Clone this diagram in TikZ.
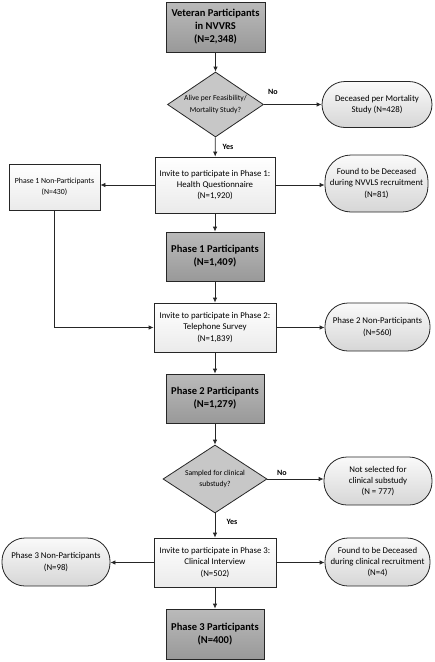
\documentclass[tikz,border=0pt]{standalone}
\usepackage{fontspec}
\setmainfont{Carlito}
\usetikzlibrary{shapes.geometric,arrows.meta}
\begin{document}
\begin{tikzpicture}[x=1pt,y=-1pt,
  base/.style={draw=black!85,line width=0.8pt,align=center,inner sep=1pt,text=black},
  darkbox/.style={base,top color=black!27,bottom color=black!40,font=\fontsize{10.5}{13}\selectfont\bfseries},
  whitebox/.style={base,top color=white,bottom color=black!8,font=\fontsize{8.8}{11.3}\selectfont},
  oval/.style={base,rounded corners=23pt,top color=black!2,bottom color=black!16,font=\fontsize{8.8}{11.3}\selectfont},
  decision/.style={base,diamond,fill=black!22,inner sep=0pt,shape aspect=1.5,font=\fontsize{7.6}{11.5}\selectfont},
  lbl/.style={font=\fontsize{8}{9}\selectfont\bfseries,text=black},
  arr/.style={line width=0.8pt,draw=black!85,-{Latex[length=5pt,width=4.5pt]}}
]
\useasboundingbox (0,0) rectangle (435,662);
\node[darkbox,minimum width=99pt,minimum height=50pt] (top) at (215.5,27) {Veteran Participants\\in NVVRS\\(N=2,348)};
\node[decision,minimum width=96pt,minimum height=65pt] (d1) at (215.5,104.5) {Alive per Feasibility/\\Mortality Study?};
\node[oval,minimum width=110pt,minimum height=46pt] (dec1) at (377,104.5) {Deceased per Mortality\\Study (N=428)};
\node[whitebox,minimum width=120pt,minimum height=56pt] (inv1) at (215,185) {Invite to participate in Phase 1:\\Health Questionnaire\\(N=1,920)};
\node[oval,minimum width=103pt,minimum height=57pt,rounded corners=26pt] (dec2) at (376.5,183.5) {Found to be Deceased\\during NVVLS recruitment\\(N=81)};
\node[whitebox,minimum width=91pt,minimum height=46pt,font=\fontsize{7.8}{11}\selectfont] (np1) at (54.5,187) {Phase 1 Non-Participants\\(N=430)};
\node[darkbox,minimum width=98pt,minimum height=49pt] (p1) at (215,256.5) {Phase 1 Participants\\(N=1,409)};
\node[whitebox,minimum width=122pt,minimum height=49pt] (inv2) at (215,327.5) {Invite to participate in Phase 2:\\Telephone Survey\\(N=1,839)};
\node[oval,minimum width=105pt,minimum height=48pt] (np2) at (377.5,327) {Phase 2 Non-Participants\\(N=560)};
\node[darkbox,minimum width=98pt,minimum height=49pt] (p2) at (215,398.5) {Phase 2 Participants\\(N=1,279)};
\node[decision,minimum width=104pt,minimum height=68pt] (d2) at (215,479) {Sampled for clinical\\substudy?};
\node[oval,minimum width=108pt,minimum height=48pt] (ns) at (378,481) {Not selected for\\clinical substudy\\(N = 777)};
\node[whitebox,minimum width=122pt,minimum height=49pt] (inv3) at (215,562.5) {Invite to participate in Phase 3:\\Clinical Interview\\(N=502)};
\node[oval,minimum width=108pt,minimum height=48pt] (np3) at (56,562) {Phase 3 Non-Participants\\(N=98)};
\node[oval,minimum width=105pt,minimum height=48pt] (dec3) at (377.5,562) {Found to be Deceased\\during clinical recruitment\\(N=4)};
\node[darkbox,minimum width=98pt,minimum height=50pt] (p3) at (215,634) {Phase 3 Participants\\(N=400)};
\node[lbl] (no1) at (273,92) {No};
\node[lbl] (yes1) at (228,147) {Yes};
\node[lbl] (no2) at (282,473) {No};
\node[lbl] (yes2) at (232,522) {Yes};
\draw[arr] (top) -- (d1);
\draw[arr] (d1.east) -- (d1.east -| dec1.west);
\draw[arr] (d1) -- (inv1);
\draw[arr] (inv1.east) -- (inv1.east -| dec2.west);
\draw[arr] (inv1.west) -- (inv1.west -| np1.east);
\draw[arr] (inv1) -- (p1);
\draw[arr] (p1) -- (inv2);
\draw[arr] (np1.south) |- (inv2.west);
\draw[arr] (inv2.east) -- (inv2.east -| np2.west);
\draw[arr] (inv2) -- (p2);
\draw[arr] (p2) -- (d2);
\draw[arr] (d2.east) -- (d2.east -| ns.west);
\draw[arr] (d2) -- (inv3);
\draw[arr] (inv3.west) -- (inv3.west -| np3.east);
\draw[arr] (inv3.east) -- (inv3.east -| dec3.west);
\draw[arr] (inv3) -- (p3);
\end{tikzpicture}
\end{document}
